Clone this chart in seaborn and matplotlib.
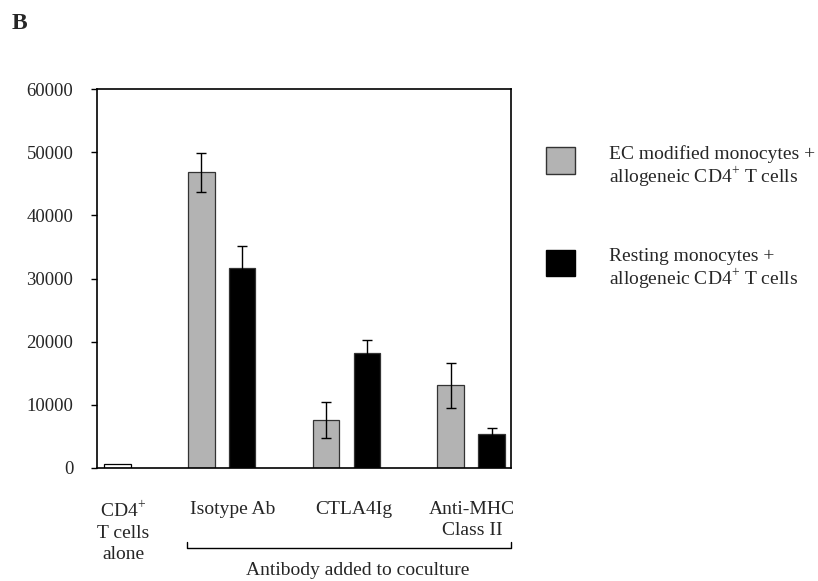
#!/usr/bin/env python3
# -*- coding: utf-8 -*-

"""
Grouped bar chart: proliferation of CD4+ T cells with EC modified / resting monocytes.
"""

import numpy as np
import pandas as pd
import matplotlib.pyplot as plt
import matplotlib.patches as mpatches
import matplotlib.transforms as mtransforms
from matplotlib.legend_handler import HandlerPatch
import seaborn as sns

groups = ["CD4$^{+}$\nT cells\nalone", "Isotype Ab", "CTLA4Ig", "Anti-MHC\nClass II"]
series = ["EC modified monocytes +\nallogeneic CD4$^{+}$ T cells",
          "Resting monocytes +\nallogeneic CD4$^{+}$ T cells"]

# first group has only the T cells alone bar (drawn white)
ec_mono = [np.nan, 46800, 7600, 13100]
ec_err = [np.nan, 3100, 2800, 3600]
rest_mono = [700, 31600, 18200, 5400]
rest_err = [np.nan, 3500, 2100, 1000]

yticks = [0, 10000, 20000, 30000, 40000, 50000, 60000]


def build_frame():
    rows = []
    for name, vals in zip(series, [ec_mono, rest_mono]):
        for g, v in zip(groups, vals):
            if not np.isnan(v):
                rows.append({"group": g, "value": v, "series": name})
    return pd.DataFrame(rows)


def raised_square(legend, orig_handle, xdescent, ydescent, width, height, fontsize):
    # legend square sits a little higher than matplotlib puts it
    return mpatches.Rectangle((-xdescent, -ydescent + 5), width, height)


def main():
    sns.set_style("white")
    plt.rcParams['font.family'] = ['Liberation Serif', 'DejaVu Serif']
    plt.rcParams['mathtext.fontset'] = 'custom'
    plt.rcParams['mathtext.rm'] = 'Liberation Serif'

    df = build_frame()

    fig = plt.figure(figsize=(8.18, 5.81), dpi=100)
    ax = fig.add_axes([0.1186, 0.1945, 0.5061, 0.6523])

    gray = "#b3b3b3"
    sns.barplot(data=df, x="group", y="value", hue="series", order=groups,
                hue_order=series, palette=[gray, "black"], width=0.656, gap=0.35,
                edgecolor="#333333", linewidth=0.9, errorbar=None, legend=False, ax=ax)

    # error bars from the bars seaborn placed
    for cont, errs in zip(ax.containers, [ec_err, rest_err]):
        for bar in cont:
            xc = bar.get_x() + bar.get_width() / 2
            idx = int(round(xc))
            if idx == 0:
                bar.set_facecolor("white")
                bar.set_edgecolor("black")
            e = errs[idx]
            if not np.isnan(e):
                ax.errorbar(xc, bar.get_height(), yerr=e, fmt="none", ecolor="black",
                            elinewidth=1.0, capsize=3.5, capthick=1.0, zorder=5)

    ax.set_xlim(0, 3.32)
    ax.set_ylim(0, 60000)
    ax.set_yticks(yticks)
    ax.set_yticklabels([str(t) for t in yticks], fontsize=13.5)
    ax.set_xlabel("")
    ax.set_ylabel("")

    # separators as ticks, labels as minor ticks
    ax.set_xticks([0.5, 1.5, 2.5])
    ax.set_xticklabels([])
    ax.set_xticks([0.21, 1.09, 2.06, 3.01], minor=True)
    ax.set_xticklabels(groups, minor=True, fontsize=14, linespacing=1.28)
    ax.tick_params(axis="x", which="major", direction="out", length=4, width=1, color="black")
    ax.tick_params(axis="x", which="minor", length=0, pad=24)
    ax.tick_params(axis="y", direction="out", length=4, width=1, color="black", pad=13, left=True)

    for s in ax.spines.values():
        s.set_visible(True)
        s.set_color("black")
        s.set_linewidth(1.2)

    # bracket under the antibody groups
    tr = mtransforms.blended_transform_factory(ax.transData, ax.transAxes)
    ax.plot([0.72, 0.72, 3.32, 3.32], [-0.195, -0.211, -0.211, -0.195], color="black",
            lw=1.0, transform=tr, clip_on=False)
    ax.text(2.09, -0.27, "Antibody added to coculture", transform=tr, ha="center",
            va="center", fontsize=14)

    handles = [mpatches.Patch(facecolor=gray, edgecolor="#333333", linewidth=1.0),
               mpatches.Patch(facecolor="black", edgecolor="black")]
    leg = fig.legend(handles, series, loc="upper left", bbox_to_anchor=(0.668, 0.75),
                     frameon=False, fontsize=14, handlelength=1.45, handleheight=1.75,
                     handletextpad=1.75, labelspacing=3.05, borderpad=0, borderaxespad=0,
                     handler_map={mpatches.Patch: HandlerPatch(patch_func=raised_square)})
    for t in leg.get_texts():
        t.set_linespacing(1.1)

    fig.text(0.014, 0.96, "B", fontsize=17, fontweight="bold", va="center")

    fig.savefig("out.png", dpi=100)


if __name__ == "__main__":
    main()
